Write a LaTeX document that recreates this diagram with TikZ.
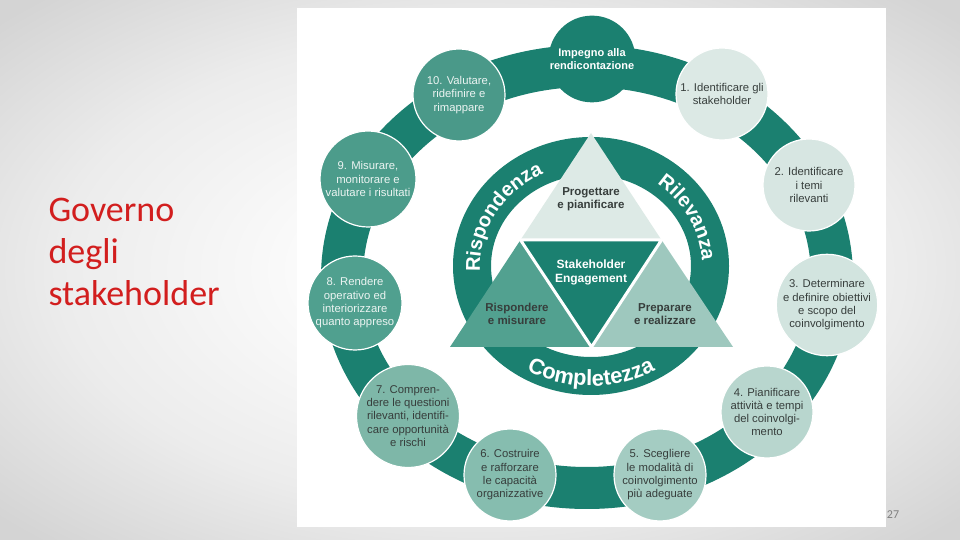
\documentclass[tikz,border=0pt]{standalone}
\usepackage{fontspec}
\setmainfont{Liberation Sans}
\newfontfamily\slidefont{Carlito}
\usetikzlibrary{decorations.text,calc}
\definecolor{ringc}{RGB}{27,128,112}
\definecolor{darktxt}{RGB}{55,62,60}
\definecolor{lighttxt}{RGB}{236,244,242}
\definecolor{titlered}{RGB}{210,30,30}
\definecolor{bgA}{RGB}{252,252,252}
\definecolor{bgB}{RGB}{236,236,236}
\definecolor{bgC}{RGB}{212,212,212}
\definecolor{cA}{RGB}{220,233,229}
\definecolor{cB}{RGB}{215,230,226}
\definecolor{cC}{RGB}{210,228,223}
\definecolor{cD}{RGB}{184,214,206}
\definecolor{cE}{RGB}{164,204,194}
\definecolor{cF}{RGB}{134,189,175}
\definecolor{cG}{RGB}{126,183,168}
\definecolor{cH}{RGB}{80,160,143}
\definecolor{cI}{RGB}{76,156,139}
\definecolor{cJ}{RGB}{74,153,137}
\definecolor{triTop}{RGB}{221,234,230}
\definecolor{triLeft}{RGB}{82,161,144}
\definecolor{triRight}{RGB}{158,200,190}
\pgfdeclareradialshading{slidebg}{\pgfpoint{0bp}{0bp}}{color(0bp)=(bgA); color(8bp)=(bgA); color(22bp)=(bgB); color(34bp)=(bgC); color(50bp)=(bgC)}
\begin{document}
\begin{tikzpicture}[x=1pt,y=1pt,
  stepcircle/.style={circle, inner sep=0pt, minimum size=92pt, draw=white, line width=1.2pt,
    align=center, font=\fontsize{11.3}{13.3}\selectfont, text=darktxt},
  darkstep/.style={stepcircle, text=lighttxt},
  topblob/.style={circle, inner sep=0pt, minimum size=84pt, fill=ringc, text=white,
    align=center, font=\bfseries\fontsize{11}{12.5}\selectfont},
  tritext/.style={align=center, font=\bfseries\fontsize{11.5}{13.5}\selectfont, text=darktxt},
  titletxt/.style={anchor=base west, font=\slidefont\fontsize{36}{42}\selectfont, text=titlered},
  pagenum/.style={font=\slidefont\fontsize{12}{14}\selectfont, text=gray},
  curvetext/.style={decorate, decoration={text along path, text align=center, text color=white,
    text={|\bfseries\fontsize{20}{20}\selectfont|#1}}},
  bigcurvetext/.style={decorate, decoration={text along path, text align=center, text color=white,
    text={|\bfseries\fontsize{22}{22}\selectfont|#1}}}
]
\useasboundingbox (0,0) rectangle (960,540);
\shade[shading=slidebg] (0,0) rectangle (960,540);
\fill[white] (297,13) rectangle (886,532);

% outer ring
\draw[ringc, line width=42pt] (587,263) ellipse [x radius=245pt, y radius=211pt];

% step circles
\node[topblob] (commit) at (592,481) {Impegno alla\\rendicontazione};
\node[stepcircle, fill=cA] (s1) at (722,446) {1. Identificare gli\\stakeholder};
\node[stepcircle, fill=cB] (s2) at (809,355) {2. Identificare\\i temi\\rilevanti};
\node[stepcircle, fill=cC, minimum size=98pt] (s3) at (827,235) {3. Determinare\\e definire obiettivi\\e scopo del\\coinvolgimento};
\node[stepcircle, fill=cD] (s4) at (767,128) {4. Pianificare\\attività e tempi\\del coinvolgi-\\mento};
\node[stepcircle, fill=cE] (s5) at (660,65) {5. Scegliere\\le modalità di\\coinvolgimento\\più adeguate};
\node[stepcircle, fill=cF] (s6) at (510,65) {6. Costruire\\e rafforzare\\le capacità\\organizzative};
\node[stepcircle, fill=cG, minimum size=98pt] (s7) at (408,124) {7. Compren-\\dere le questioni\\rilevanti, identifi-\\care opportunità\\e rischi};
\node[darkstep, fill=cH, minimum size=94pt] (s8) at (355,237) {8. Rendere\\operativo ed\\interiorizzare\\quanto appreso};
\node[darkstep, fill=cI, minimum size=96pt] (s9) at (368,361) {9. Misurare,\\monitorare e\\valutare i risultati};
\node[darkstep, fill=cJ] (s10) at (459,445) {10. Valutare,\\ridefinire e\\rimappare};

% inner ring
\draw[ringc, line width=38pt] (591,274) ellipse [x radius=119pt, y radius=110pt];

% curved texts
\path[curvetext=Rispondenza] ($(591,274)+(205:111pt and 102pt)$) arc[start angle=205, end angle=95, x radius=111pt, y radius=102pt];
\path[curvetext=Rilevanza] ($(591,274)+(75:111pt and 102pt)$) arc[start angle=75, end angle=-20, x radius=111pt, y radius=102pt];
\path[bigcurvetext=Completezza] ($(591,274)+(200:129pt and 120pt)$) arc[start angle=200, end angle=340, x radius=129pt, y radius=120pt];

% triangles
\coordinate (apex) at (591,407);
\coordinate (bl) at (450,193);
\coordinate (br) at (733,193);
\coordinate (ml) at (520.5,300);
\coordinate (mr) at (661.5,300);
\coordinate (mb) at (591.5,193);
\fill[triTop] (apex) -- (ml) -- (mr) -- cycle;
\fill[triLeft] (ml) -- (bl) -- (mb) -- cycle;
\fill[triRight] (mr) -- (mb) -- (br) -- cycle;
\fill[ringc] (ml) -- (mr) -- (mb) -- cycle;
\draw[white, line width=3pt, line join=miter] (ml) -- (mr) -- (mb) -- cycle;

\node[tritext] (plan) at (591,341) {Progettare\\e pianificare};
\node[tritext, text=white, font=\bfseries\fontsize{12}{14}\selectfont] (engage) at (591,268) {Stakeholder\\Engagement};
\node[tritext] (respond) at (517,226) {Rispondere\\e misurare};
\node[tritext] (prepare) at (665,226) {Preparare\\e realizzare};

% slide title and page number
\node[titletxt] (t1) at (45,318) {Governo};
\node[titletxt] (t2) at (45,276) {degli};
\node[titletxt] (t3) at (45,234) {stakeholder};
\node[pagenum] (pg) at (893,25) {27};
\end{tikzpicture}
\end{document}
